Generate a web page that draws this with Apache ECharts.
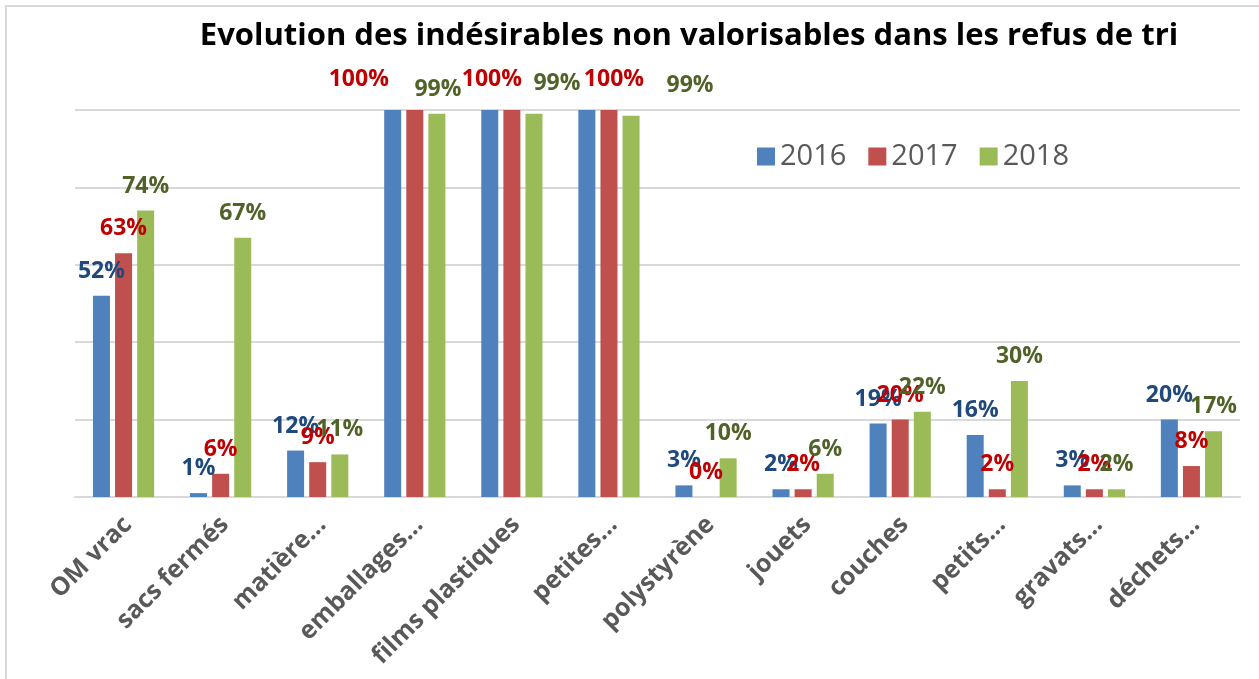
<!DOCTYPE html>
<html>
<head>
    <meta charset="utf-8">
    <title>ECharts</title>
    <script src="https://cdn.jsdelivr.net/npm/echarts@6/dist/echarts.min.js"></script>
    <style>
        body { margin: 0; background: #fff; }
        #frame { position: absolute; left: 5px; top: 5px; width: 1254px; height: 674px;
                 border-left: 2px solid #D9D9D9; border-top: 2px solid #D9D9D9; }
        #main { position: absolute; left: 0; top: 0; width: 1259px; height: 679px; }
    </style>
</head>
<body>
<div id="frame"></div>
<div id="main"></div>
<script type="text/javascript">
    var categories = ['OM vrac', 'sacs fermés', 'matière…', 'emballages…', 'films plastiques', 'petites…',
        'polystyrène', 'jouets', 'couches', 'petits…', 'gravats…', 'déchets…'];
    var years = ['2016', '2017', '2018'];
    var v2016 = [52, 1, 12, 100, 100, 100, 3, 2, 19, 16, 3, 20];
    var v2017 = [63, 6, 9, 100, 100, 100, 0, 2, 20, 2, 2, 8];
    var v2018 = [74, 67, 11, 99, 99, 98.5, 10, 6, 22, 30, 2, 17];

    var barColors = ['#4F81BD', '#C0504D', '#9BBB59'];
    var labelColors = ['#1F497D', '#C00000', '#4F6228'];
    // labels moved by hand in the original sheet (near the top of the plot)
    var labelNudge = [
        {},
        { 3: [-56, -6], 4: [-20, -6], 5: [5, -6] },
        { 3: [1, 0], 4: [23, -6], 5: [59, -6] }
    ];

    function buildSeries(name, values, idx) {
        var items = values.map(function (v, i) {
            var item = { value: v };
            if (v >= 100 && idx === 0) {
                item.label = { show: false };
            } else if (labelNudge[idx][i]) {
                item.label = { offset: labelNudge[idx][i] };
            }
            return item;
        });
        return {
            name: name,
            type: 'bar',
            data: items,
            barWidth: 17,
            barGap: '30%',
            itemStyle: { color: barColors[idx] },
            label: {
                show: true,
                position: 'top',
                distance: 13,
                formatter: function (p) { return Math.round(p.value) + '%'; },
                color: labelColors[idx],
                fontFamily: 'Open Sans',
                fontWeight: 'bold',
                fontSize: 23
            }
        };
    }

    var myChart = echarts.init(document.getElementById('main'));
    var option = {
        animation: false,
        title: {
            text: 'Evolution des indésirables non valorisables dans les refus de tri',
            left: 684,
            textAlign: 'center',
            top: 16,
            textStyle: { fontFamily: 'Open Sans', fontWeight: 'bold', fontSize: 31, color: '#000' }
        },
        legend: {
            data: years,
            left: 752,
            top: 137,
            itemWidth: 18,
            itemHeight: 18,
            itemGap: 22,
            icon: 'rect',
            textStyle: { fontFamily: 'Open Sans', fontSize: 29, color: '#595959' }
        },
        grid: { left: 75, right: 19, top: 110, bottom: 182 },
        xAxis: {
            type: 'category',
            data: categories,
            axisLine: { lineStyle: { color: '#D9D9D9', width: 2 } },
            axisTick: { show: false },
            axisLabel: {
                interval: 0,
                rotate: 45,
                margin: 28,
                padding: [0, -6, 0, 0],
                color: '#595959',
                fontFamily: 'Open Sans',
                fontWeight: 'bold',
                fontSize: 25
            }
        },
        yAxis: {
            type: 'value',
            min: 0,
            max: 100,
            interval: 20,
            axisLabel: { show: false },
            axisLine: { show: false },
            axisTick: { show: false },
            splitLine: { lineStyle: { color: '#D9D9D9', width: 2 } }
        },
        series: [
            buildSeries(years[0], v2016, 0),
            buildSeries(years[1], v2017, 1),
            buildSeries(years[2], v2018, 2)
        ]
    };
    myChart.setOption(option);
</script>
</body>
</html>
